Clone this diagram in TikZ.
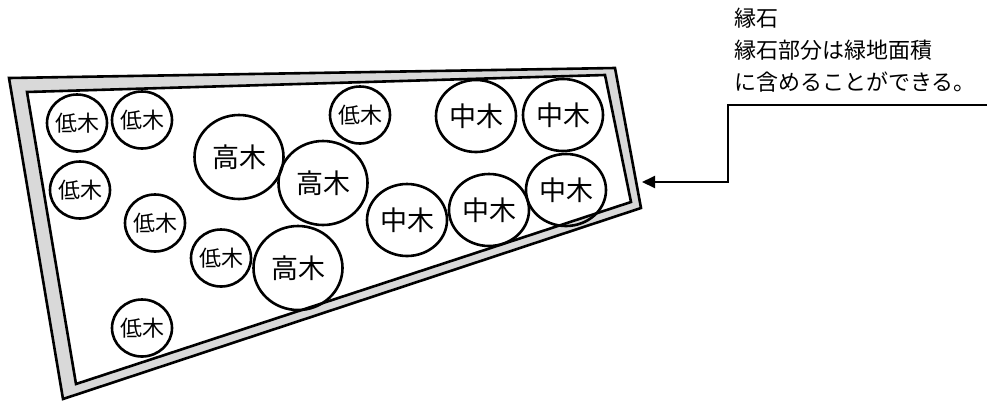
\documentclass[tikz,border=0pt]{standalone}
\usepackage{fontspec}
\setmainfont{Noto Sans CJK JP}
\usetikzlibrary{shapes.geometric, arrows.meta}

\begin{document}
\begin{tikzpicture}[x=1pt, y=-1pt,
        tree/.style={ellipse, draw, line width=2.6pt, inner sep=-8pt},
        low/.style={tree, minimum width=60pt, minimum height=57pt, font=\fontsize{22}{22}\selectfont},
        mid/.style={tree, minimum width=80pt, minimum height=72pt, font=\fontsize{27}{27}\selectfont},
        high/.style={tree, minimum width=89pt, minimum height=84pt, font=\fontsize{27}{27}\selectfont},
        note/.style={anchor=base west, inner sep=0pt, font=\fontsize{22}{22}\selectfont},
        curb/.style={line width=2.6pt},
        arrow/.style={-{Triangle[length=13pt, width=12pt]}, line width=2pt}
    ]
    \useasboundingbox (0,0) rectangle (987,400);
    % Curb
    \filldraw[curb, fill=gray!30] (9,78) -- (615,68) -- (641,208) -- (63,399) -- cycle;
    \filldraw[curb, fill=white] (27,92) -- (605,75) -- (631,202) -- (76,384) -- cycle;
    % Nodes
    \node[low] (L1) at (77,123) {低木};
    \node[low] (L2) at (142,120) {低木};
    \node[low] (L3) at (80,190) {低木};
    \node[low] (L4) at (155,223) {低木};
    \node[low] (L5) at (221,258) {低木};
    \node[low] (L6) at (142,328) {低木};
    \node[low] (L7) at (360,115) {低木};
    \node[high] (H1) at (239,157) {高木};
    \node[high] (H2) at (323,183) {高木};
    \node[high] (H3) at (298,268) {高木};
    \node[mid] (M1) at (476,116) {中木};
    \node[mid] (M2) at (563,115) {中木};
    \node[mid] (M3) at (566,190) {中木};
    \node[mid] (M4) at (489,210) {中木};
    \node[mid] (M5) at (407,220) {中木};
    \node[note] (title) at (734,26) {縁石};
    \node[note] (line2) at (734,58) {縁石部分は緑地面積};
    \node[note] (line3) at (734,90) {に含めることができる。};
    % Edges
    \coordinate (edge) at (987,105);
    \coordinate (tip) at (642,182);
    \draw[arrow] (edge) -- (728,105) |- (tip);
\end{tikzpicture}
\end{document}
